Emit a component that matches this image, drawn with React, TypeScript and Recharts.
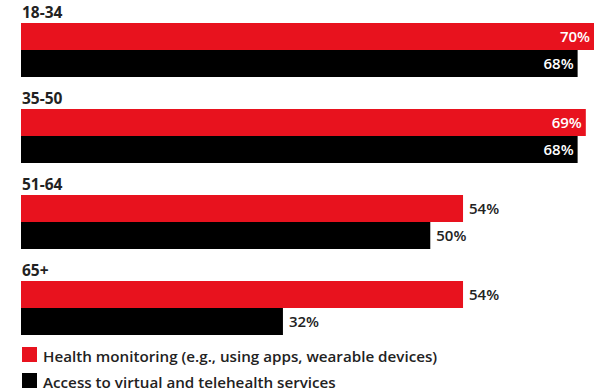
import React from 'react';
import { BarChart, Bar, XAxis, YAxis, LabelList } from 'recharts';

const ageGroups = ['18-34', '35-50', '51-64', '65+'];
const healthMonitoring = [70, 69, 54, 54];
const telehealth = [68, 68, 50, 32];
const seriesNames = [
  'Health monitoring (e.g., using apps, wearable devices)',
  'Access to virtual and telehealth services',
];

const RED = '#E8121E';
const BLACK = '#000000';
const TEXT = '#222222';
const FONT = "'Open Sans', sans-serif";
const W = 605;
const H = 390;

const data = ageGroups.map((age, i) => ({
  age,
  health: healthMonitoring[i],
  tele: telehealth[i],
}));

const renderValue = (props: any) => {
  const { x, y, width, height, value } = props;
  const inside = value >= 60;
  const end = x + width;
  return (
    <text
      x={inside ? end - 4 : end + 6}
      y={y + height / 2 + 5}
      textAnchor={inside ? 'end' : 'start'}
      fill={inside ? '#ffffff' : TEXT}
      fontFamily={FONT}
      fontWeight={600}
      fontSize={15}
    >
      {value}%
    </text>
  );
};

const renderCategory = (props: any) => {
  const { x, y, value } = props;
  return (
    <text x={x + 1} y={y - 5} fill={TEXT} fontFamily={FONT} fontWeight={700} fontSize={15.5}>
      {value}
    </text>
  );
};

const legendColors = [RED, BLACK];

export default function App() {
  return (
    <div style={{ position: 'absolute', left: 0, top: 0, width: W, height: H, background: '#fff', overflow: 'hidden' }}>
      <BarChart
        width={W}
        height={H}
        data={data}
        layout="vertical"
        margin={{ top: 7, right: 11, bottom: 39, left: 21 }}
        barSize={27}
        barGap={0}
      >
        <XAxis type="number" domain={[0, 70]} hide />
        <YAxis type="category" dataKey="age" hide />
        <Bar dataKey="health" name={seriesNames[0]} fill={RED} isAnimationActive={false}>
          <LabelList dataKey="age" content={renderCategory} />
          <LabelList dataKey="health" content={renderValue} />
        </Bar>
        <Bar dataKey="tele" name={seriesNames[1]} fill={BLACK} isAnimationActive={false}>
          <LabelList dataKey="tele" content={renderValue} />
        </Bar>
      </BarChart>
      <div style={{ position: 'absolute', left: 22, top: 347 }}>
        {seriesNames.map((name, i) => (
          <div
            key={name}
            style={{ position: 'relative', height: 15, marginBottom: 11 }}
          >
            <div style={{ position: 'absolute', left: 0, top: 0, width: 15, height: 15, background: legendColors[i] }} />
            <span
              style={{
                position: 'absolute',
                left: 21,
                top: 1.5,
                fontFamily: FONT,
                fontWeight: 600,
                fontSize: 15.2,
                color: TEXT,
                whiteSpace: 'nowrap',
                lineHeight: '15px',
              }}
            >
              {name}
            </span>
          </div>
        ))}
      </div>
    </div>
  );
}
